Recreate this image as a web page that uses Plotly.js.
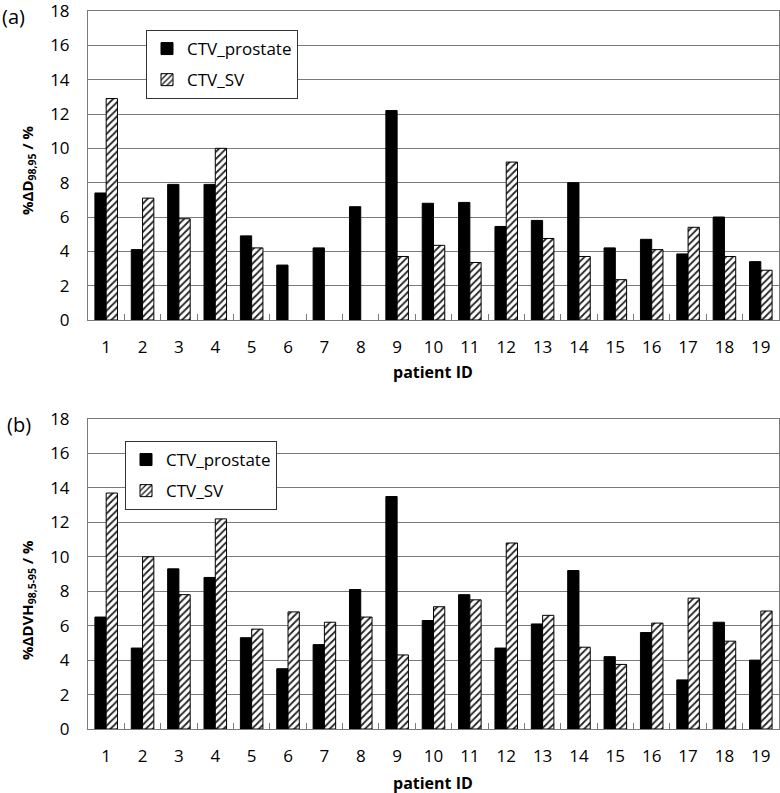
<!DOCTYPE html>
<html>
<head>
<meta charset="utf-8">
<script src="https://cdn.plot.ly/plotly-3.0.1.min.js"></script>
<style>html,body{margin:0;padding:0;background:#fff;}#chart{width:780px;height:793px;}</style>
</head>
<body>
<div id="chart"></div>
<script>
// ---- data ----
const patientIDs = ["1","2","3","4","5","6","7","8","9","10","11","12","13","14","15","16","17","18","19"];
const seriesNames = ["CTV_prostate", "CTV_SV"];
// (a) %ΔD98,95
const a_prostate = [7.4, 4.1, 7.9, 7.9, 4.9, 3.2, 4.2, 6.6, 12.2, 6.8, 6.85, 5.45, 5.8, 8.0, 4.2, 4.7, 3.85, 6.0, 3.4];
const a_sv       = [12.9, 7.1, 5.9, 10.0, 4.2, null, null, null, 3.7, 4.35, 3.35, 9.2, 4.75, 3.7, 2.35, 4.1, 5.4, 3.7, 2.9];
// (b) %ΔDVH98,5-95
const b_prostate = [6.5, 4.7, 9.3, 8.8, 5.3, 3.5, 4.9, 8.1, 13.5, 6.3, 7.8, 4.7, 6.1, 9.2, 4.2, 5.6, 2.85, 6.2, 4.0];
const b_sv       = [13.7, 10.0, 7.8, 12.2, 5.8, 6.8, 6.2, 6.5, 4.3, 7.1, 7.5, 10.8, 6.6, 4.75, 3.75, 6.15, 7.6, 5.1, 6.85];
const yTicks = [0, 2, 4, 6, 8, 10, 12, 14, 16, 18];

// ---- layout helpers ----
const W = 780, H = 793, ML = 88, MR = 1, MT = 11, MB = 64;
const PW = W - ML - MR, PH = H - MT - MB;
const px = x => (x - ML) / PW;
const py = y => (H - MB - y) / PH;
const FONT = "Open Sans, Liberation Sans, sans-serif";
const grid = "#7a7a7a";

function solidTrace(y, xa, ya, lg, name) {
  return {type: "bar", x: patientIDs, y: y, name: name, xaxis: xa, yaxis: ya, legend: lg,
    legendgroup: lg + name,
    marker: {color: "#000", line: {color: "#000", width: 1}}, hoverinfo: "y"};
}
function hatchTrace(y, xa, ya, lg, name) {
  return {type: "bar", x: patientIDs, y: y, name: name, xaxis: xa, yaxis: ya, legend: lg,
    legendgroup: lg + name,
    marker: {color: "#fff", line: {color: "#000", width: 1},
      pattern: {shape: "/", fgcolor: "#222", bgcolor: "#fff", size: 5, solidity: 0.35}}, hoverinfo: "y"};
}

const traces = [
  solidTrace(a_prostate, "x", "y", "legend", seriesNames[0]),
  hatchTrace(a_sv, "x", "y", "legend", seriesNames[1]),
  solidTrace(b_prostate, "x2", "y2", "legend2", seriesNames[0]),
  hatchTrace(b_sv, "x2", "y2", "legend2", seriesNames[1])
];

function xaxisDef(anchor) {
  return {anchor: anchor, type: "category", showgrid: false, showline: true, linecolor: grid, linewidth: 1,
    mirror: true, ticks: "inside", tickson: "boundaries", ticklen: 6, tickcolor: grid, tickwidth: 1,
    tickfont: {family: FONT, size: 17, color: "#000"}, ticklabelstandoff: 12, fixedrange: true};
}
function yaxisDef(anchor, domain) {
  return {anchor: anchor, domain: domain, range: [0, 18], tickvals: yTicks, ticktext: yTicks.map(String),
    showgrid: true, gridcolor: grid, gridwidth: 1, showline: true, linecolor: grid, linewidth: 1, mirror: true,
    zeroline: false, ticks: "", tickfont: {family: FONT, size: 17, color: "#000"}, ticklabelstandoff: 14,
    ticklabeloverflow: "allow", fixedrange: true};
}
function legendDef(x, yTop) {
  return {x: x, y: yTop, xanchor: "left", yanchor: "top", bgcolor: "#fff", bordercolor: "#333", borderwidth: 1,
    font: {family: FONT, size: 17, color: "#000"}, traceorder: "grouped", tracegroupgap: 6,
    itemwidth: 30, itemclick: false, itemdoubleclick: false};
}

const layout = {
  width: W, height: H, margin: {l: ML, r: MR, t: MT, b: MB},
  paper_bgcolor: "#fff", plot_bgcolor: "#fff",
  barmode: "group", bargap: 0.38, bargroupgap: 0,
  xaxis: xaxisDef("y"), yaxis: yaxisDef("x", [py(320), 1]),
  xaxis2: xaxisDef("y2"), yaxis2: yaxisDef("x2", [0, py(419)]),
  legend: legendDef(px(146), py(30)),
  legend2: legendDef(px(125), py(441)),
  annotations: [
    {text: "(a)", xref: "paper", yref: "paper", x: px(13), y: py(17), xanchor: "center", yanchor: "middle",
      showarrow: false, font: {family: FONT, size: 20, color: "#000"}},
    {text: "(b)", xref: "paper", yref: "paper", x: px(19), y: py(425), xanchor: "center", yanchor: "middle",
      showarrow: false, font: {family: FONT, size: 20, color: "#000"}},
    {text: "<b>%ΔD<sub>98,95</sub> / %</b>", xref: "paper", yref: "paper", x: px(28), y: py(170),
      xanchor: "center", yanchor: "middle", textangle: -90, showarrow: false,
      font: {family: FONT, size: 15, color: "#000"}},
    {text: "<b>%ΔDVH<sub>98,5-95</sub> / %</b>", xref: "paper", yref: "paper", x: px(28), y: py(600),
      xanchor: "center", yanchor: "middle", textangle: -90, showarrow: false,
      font: {family: FONT, size: 15, color: "#000"}},
    {text: "<b>patient ID</b>", xref: "paper", yref: "paper", x: px(433), y: py(372),
      xanchor: "center", yanchor: "middle", showarrow: false, font: {family: FONT, size: 16, color: "#000"}},
    {text: "<b>patient ID</b>", xref: "paper", yref: "paper", x: px(433), y: py(783),
      xanchor: "center", yanchor: "middle", showarrow: false, font: {family: FONT, size: 16, color: "#000"}}
  ]
};

Plotly.newPlot("chart", traces, layout, {displayModeBar: false, staticPlot: true});
</script>
</body>
</html>
